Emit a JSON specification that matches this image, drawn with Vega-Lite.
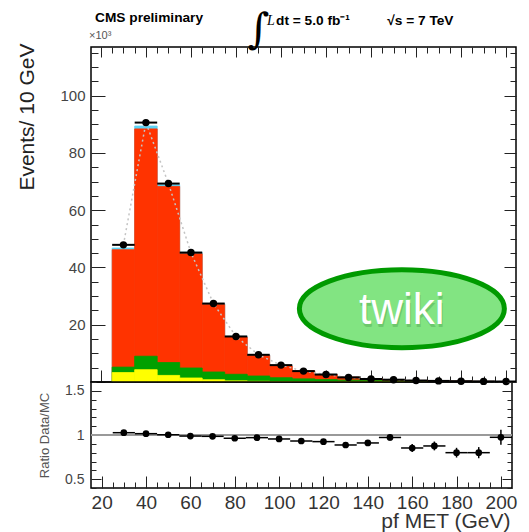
{
  "$schema": "https://vega.github.io/schema/vega-lite/v6.json",
  "background": "white",
  "padding": {"left": 15, "top": 8, "right": 0, "bottom": 0},
  "spacing": 0,
  "bounds": "flush",
  "config": {
    "view": {"stroke": "black", "strokeWidth": 1.5},
    "font": "Liberation Sans",
    "axis": {"domain": false, "grid": false, "tickColor": "#222", "tickWidth": 1, "labelFont": "Liberation Sans", "titleFont": "Liberation Sans", "labelColor": "#444", "titleColor": "#333", "titleFontWeight": "normal", "zindex": 1, "labelOverlap": false, "labelFlush": false, "labelBound": false}
  },
  "datasets": {
    "bins": [
      {"c": 30, "lo": 25, "hi": 35, "ytop": 3.3, "gtop": 5.2, "rtop": 46.2, "btop": 46.8, "data": 47.9, "ratio": 1.026, "rlo": 1.02, "rhi": 1.032},
      {"c": 40, "lo": 35, "hi": 45, "ytop": 4.3, "gtop": 9.0, "rtop": 88.4, "btop": 89.4, "data": 90.6, "ratio": 1.015, "rlo": 1.01, "rhi": 1.02},
      {"c": 50, "lo": 45, "hi": 55, "ytop": 2.3, "gtop": 6.8, "rtop": 68.3, "btop": 68.9, "data": 69.3, "ratio": 1.003, "rlo": 0.998, "rhi": 1.008},
      {"c": 60, "lo": 55, "hi": 65, "ytop": 1.4, "gtop": 4.9, "rtop": 44.8, "btop": 45.3, "data": 45.2, "ratio": 0.988, "rlo": 0.983, "rhi": 0.993},
      {"c": 70, "lo": 65, "hi": 75, "ytop": 0.8, "gtop": 3.5, "rtop": 27.1, "btop": 27.4, "data": 27.4, "ratio": 0.985, "rlo": 0.979, "rhi": 0.991},
      {"c": 80, "lo": 75, "hi": 85, "ytop": 0.4, "gtop": 2.7, "rtop": 15.7, "btop": 15.95, "data": 15.9, "ratio": 0.963, "rlo": 0.955, "rhi": 0.971},
      {"c": 90, "lo": 85, "hi": 95, "ytop": 0.25, "gtop": 2.1, "rtop": 9.3, "btop": 9.45, "data": 9.5, "ratio": 0.97, "rlo": 0.96, "rhi": 0.98},
      {"c": 100, "lo": 95, "hi": 105, "ytop": 0.15, "gtop": 1.5, "rtop": 5.6, "btop": 5.75, "data": 5.9, "ratio": 0.955, "rlo": 0.943, "rhi": 0.967},
      {"c": 110, "lo": 105, "hi": 115, "ytop": 0.1, "gtop": 1.1, "rtop": 3.9, "btop": 4.0, "data": 3.8, "ratio": 0.932, "rlo": 0.917, "rhi": 0.947},
      {"c": 120, "lo": 115, "hi": 125, "ytop": 0.06, "gtop": 0.85, "rtop": 2.65, "btop": 2.72, "data": 2.6, "ratio": 0.925, "rlo": 0.907, "rhi": 0.943},
      {"c": 130, "lo": 125, "hi": 135, "ytop": 0.05, "gtop": 0.65, "rtop": 1.75, "btop": 1.8, "data": 1.6, "ratio": 0.887, "rlo": 0.865, "rhi": 0.909},
      {"c": 140, "lo": 135, "hi": 145, "ytop": 0.03, "gtop": 0.5, "rtop": 1.12, "btop": 1.15, "data": 1.05, "ratio": 0.91, "rlo": 0.884, "rhi": 0.936},
      {"c": 150, "lo": 145, "hi": 155, "ytop": 0.02, "gtop": 0.38, "rtop": 0.8, "btop": 0.82, "data": 0.8, "ratio": 0.972, "rlo": 0.937, "rhi": 1.007},
      {"c": 160, "lo": 155, "hi": 165, "ytop": 0.02, "gtop": 0.28, "rtop": 0.57, "btop": 0.59, "data": 0.5, "ratio": 0.853, "rlo": 0.808, "rhi": 0.898},
      {"c": 170, "lo": 165, "hi": 175, "ytop": 0.01, "gtop": 0.2, "rtop": 0.43, "btop": 0.44, "data": 0.38, "ratio": 0.876, "rlo": 0.826, "rhi": 0.926},
      {"c": 180, "lo": 175, "hi": 185, "ytop": 0.01, "gtop": 0.15, "rtop": 0.35, "btop": 0.36, "data": 0.29, "ratio": 0.8, "rlo": 0.745, "rhi": 0.855},
      {"c": 190, "lo": 185, "hi": 195, "ytop": 0.01, "gtop": 0.11, "rtop": 0.25, "btop": 0.26, "data": 0.21, "ratio": 0.8, "rlo": 0.737, "rhi": 0.863},
      {"c": 200, "lo": 195, "hi": 205, "ytop": 0.01, "gtop": 0.09, "rtop": 0.17, "btop": 0.18, "data": 0.17, "ratio": 0.974, "rlo": 0.889, "rhi": 1.059}
    ]
  },
  "resolve": {"scale": {"x": "independent", "y": "independent"}},
  "vconcat": [
    {
      "width": 425,
      "height": 335,
      "data": {"name": "bins"},
      "resolve": {"axis": {"x": "independent", "y": "independent"}},
      "layer": [
        {
          "mark": {"type": "bar", "fill": "#5cd3f5", "stroke": "#5cd3f5", "strokeWidth": 0.8, "clip": true},
          "encoding": {
            "x": {"field": "lo", "type": "quantitative", "scale": {"domain": [15.6, 204.4], "nice": false, "zero": false},
              "axis": {"orient": "bottom", "title": null, "labels": false,
                "values": [20,25,30,35,40,45,50,55,60,65,70,75,80,85,90,95,100,105,110,115,120,125,130,135,140,145,150,155,160,165,170,175,180,185,190,195,200],
                "tickSize": {"condition": {"test": "datum.value % 20 === 0", "value": -12}, "value": -6}}},
            "x2": {"field": "hi"},
            "y": {"field": "btop", "type": "quantitative", "scale": {"domain": [0, 117], "nice": false, "zero": false},
              "axis": {"orient": "left", "title": "Events/ 10 GeV", "titleFontSize": 21, "titleColor": "#222",
                "titleX": -54, "titleY": -4, "titleAlign": "right", "titleAngle": 270, "titleBaseline": "bottom",
                "values": [0,5,10,15,20,25,30,35,40,45,50,55,60,65,70,75,80,85,90,95,100,105,110,115],
                "labelExpr": "datum.value % 20 === 0 && datum.value > 0 ? datum.label : ''",
                "labelFontSize": 15, "labelPadding": 20, "labelOverlap": false,
                "tickSize": {"condition": {"test": "datum.value % 20 === 0", "value": -14}, "value": -7}}},
            "y2": {"datum": 0}
          }
        },
        {
          "mark": {"type": "bar", "fill": "#ff3300", "stroke": "#ff3300", "strokeWidth": 0.8, "clip": true},
          "encoding": {
            "x": {"field": "lo", "type": "quantitative",
              "axis": {"orient": "top", "title": null, "labels": false,
                "values": [20,25,30,35,40,45,50,55,60,65,70,75,80,85,90,95,100,105,110,115,120,125,130,135,140,145,150,155,160,165,170,175,180,185,190,195,200],
                "tickSize": {"condition": {"test": "datum.value % 20 === 0", "value": -10}, "value": -6}}},
            "x2": {"field": "hi"},
            "y": {"field": "rtop", "type": "quantitative",
              "axis": {"orient": "right", "title": null, "labels": false,
                "values": [0,5,10,15,20,25,30,35,40,45,50,55,60,65,70,75,80,85,90,95,100,105,110,115],
                "tickSize": {"condition": {"test": "datum.value % 20 === 0", "value": -12}, "value": -6}}},
            "y2": {"datum": 0}
          }
        },
        {
          "mark": {"type": "bar", "fill": "#00a000", "stroke": "#00a000", "strokeWidth": 0.8, "clip": true},
          "encoding": {
            "x": {"field": "lo", "type": "quantitative", "axis": null},
            "x2": {"field": "hi"},
            "y": {"field": "gtop", "type": "quantitative", "axis": null},
            "y2": {"datum": 0}
          }
        },
        {
          "mark": {"type": "bar", "fill": "#ffff00", "stroke": "#ffff00", "strokeWidth": 0.8, "clip": true},
          "encoding": {
            "x": {"field": "lo", "type": "quantitative", "axis": null},
            "x2": {"field": "hi"},
            "y": {"field": "ytop", "type": "quantitative", "axis": null},
            "y2": {"datum": 0}
          }
        },
        {
          "mark": {"type": "line", "color": "#c4c4c4", "strokeWidth": 1.5, "strokeDash": [2, 3]},
          "encoding": {
            "x": {"field": "c", "type": "quantitative", "axis": null},
            "y": {"field": "data", "type": "quantitative", "axis": null}
          }
        },
        {
          "mark": {"type": "rule", "color": "black", "strokeWidth": 2, "clip": true},
          "encoding": {
            "x": {"field": "lo", "type": "quantitative", "axis": null},
            "x2": {"field": "hi"},
            "y": {"field": "data", "type": "quantitative", "axis": null}
          }
        },
        {
          "mark": {"type": "point", "filled": true, "color": "black", "opacity": 1, "size": 55},
          "encoding": {
            "x": {"field": "c", "type": "quantitative", "axis": null},
            "y": {"field": "data", "type": "quantitative", "axis": null}
          }
        },
        {
          "data": {"values": [
            {"x": 17.4, "y": 127.1, "label": "CMS preliminary"},
            {"x": 97.8, "y": 126.1, "label": "dt = 5.0 fb⁻¹"},
            {"x": 147.2, "y": 126.1, "label": "√s = 7 TeV"}
          ]},
          "mark": {"type": "text", "align": "left", "baseline": "middle", "fontSize": 13.7, "fontWeight": "bold", "color": "black", "font": "Liberation Sans"},
          "encoding": {
            "x": {"field": "x", "type": "quantitative", "axis": null},
            "y": {"field": "y", "type": "quantitative", "axis": null},
            "text": {"field": "label"}
          }
        },
        {
          "data": {"values": [{"x": 93.8, "y": 126.1, "label": "L"}]},
          "mark": {"type": "text", "align": "left", "baseline": "middle", "fontSize": 14, "fontStyle": "italic", "color": "black", "font": "Liberation Serif"},
          "encoding": {
            "x": {"field": "x", "type": "quantitative", "axis": null},
            "y": {"field": "y", "type": "quantitative", "axis": null},
            "text": {"field": "label"}
          }
        },
        {
          "data": {"values": [{"x": 90.0, "y": 123.0, "label": "∫"}]},
          "mark": {"type": "text", "align": "center", "baseline": "middle", "fontSize": 42, "color": "black", "font": "DejaVu Serif"},
          "encoding": {
            "x": {"field": "x", "type": "quantitative", "axis": null},
            "y": {"field": "y", "type": "quantitative", "axis": null},
            "text": {"field": "label"}
          }
        },
        {
          "data": {"values": [{"x": 14.7, "y": 120.8, "label": "×10³"}]},
          "mark": {"type": "text", "align": "left", "baseline": "middle", "fontSize": 11, "color": "#555", "font": "Liberation Sans"},
          "encoding": {
            "x": {"field": "x", "type": "quantitative", "axis": null},
            "y": {"field": "y", "type": "quantitative", "axis": null},
            "text": {"field": "label"}
          }
        },
        {
          "data": {"values": [{"x": 153.7, "y": 25.6, "label": "twiki"}]},
          "mark": {"type": "point", "shape": "M -1 0 A 1 0.38 0 1 1 1 0 A 1 0.38 0 1 1 -1 0 Z", "size": 42025, "filled": true, "fill": "#82e482", "stroke": "#009a00", "strokeWidth": 5, "opacity": 1, "fillOpacity": 1, "strokeOpacity": 1},
          "encoding": {
            "x": {"field": "x", "type": "quantitative", "axis": null},
            "y": {"field": "y", "type": "quantitative", "axis": null}
          }
        },
        {
          "data": {"values": [{"x": 153.7, "y": 25.6, "label": "twiki"}]},
          "mark": {"type": "text", "align": "center", "baseline": "alphabetic", "dy": 18, "dx": 1, "fontSize": 44, "color": "#3c8a3c", "opacity": 0.3, "font": "Liberation Sans"},
          "encoding": {
            "x": {"field": "x", "type": "quantitative", "axis": null},
            "y": {"field": "y", "type": "quantitative", "axis": null},
            "text": {"field": "label"}
          }
        },
        {
          "data": {"values": [{"x": 153.7, "y": 25.6, "label": "twiki"}]},
          "mark": {"type": "text", "align": "center", "baseline": "alphabetic", "dy": 15, "fontSize": 44, "color": "white", "font": "Liberation Sans"},
          "encoding": {
            "x": {"field": "x", "type": "quantitative", "axis": null},
            "y": {"field": "y", "type": "quantitative", "axis": null},
            "text": {"field": "label"}
          }
        }
      ]
    },
    {
      "width": 421,
      "height": 106,
      "data": {"name": "bins"},
      "resolve": {"axis": {"x": "independent", "y": "independent"}},
      "layer": [
        {
          "mark": {"type": "rule", "color": "#999", "strokeWidth": 1},
          "encoding": {
            "y": {"datum": 1, "type": "quantitative", "axis": null, "scale": {"domain": [0.4, 1.6], "nice": false, "zero": false}}
          }
        },
        {
          "mark": {"type": "rule", "color": "black", "strokeWidth": 1.5},
          "encoding": {
            "x": {"field": "lo", "type": "quantitative", "scale": {"domain": [15.2, 205], "nice": false, "zero": false},
              "axis": {"orient": "bottom", "title": "pf MET (GeV)", "titleFontSize": 21, "titleColor": "#333",
                "titleX": 419, "titleY": 39, "titleAlign": "right", "titleBaseline": "alphabetic", "titleAnchor": null,
                "values": [20,25,30,35,40,45,50,55,60,65,70,75,80,85,90,95,100,105,110,115,120,125,130,135,140,145,150,155,160,165,170,175,180,185,190,195,200],
                "labelExpr": "datum.value % 20 === 0 ? datum.label : ''",
                "labelFontSize": 19, "labelColor": "#333", "labelPadding": 17, "labelOverlap": false,
                "tickSize": {"condition": {"test": "datum.value % 20 === 0", "value": -12}, "value": -6}}},
            "x2": {"field": "hi"},
            "y": {"field": "ratio", "type": "quantitative",
              "axis": {"orient": "left", "title": "Ratio Data/MC", "titleFontSize": 13, "titleColor": "#555",
                "titleX": -40, "titleY": 53, "titleAlign": "center", "titleAngle": 270, "titleBaseline": "bottom",
                "values": [0.4,0.5,0.6,0.7,0.8,0.9,1,1.1,1.2,1.3,1.4,1.5,1.6],
                "labelExpr": "abs(datum.value*2 - round(datum.value*2)) < 0.01 ? format(datum.value, '~g') : ''",
                "labelFontSize": 14, "labelPadding": 17, "labelOverlap": false,
                "tickSize": {"condition": {"test": "abs(datum.value*2 - round(datum.value*2)) < 0.01", "value": -10}, "value": -5}}}
          }
        },
        {
          "mark": {"type": "rule", "color": "black", "strokeWidth": 1.5},
          "encoding": {
            "x": {"field": "c", "type": "quantitative", "axis": null},
            "y": {"field": "rlo", "type": "quantitative",
              "axis": {"orient": "right", "title": null, "labels": false,
                "values": [0.4,0.5,0.6,0.7,0.8,0.9,1,1.1,1.2,1.3,1.4,1.5,1.6],
                "tickSize": {"condition": {"test": "abs(datum.value*2 - round(datum.value*2)) < 0.01", "value": -10}, "value": -5}}},
            "y2": {"field": "rhi"}
          }
        },
        {
          "mark": {"type": "point", "filled": true, "color": "black", "opacity": 1, "size": 45},
          "encoding": {
            "x": {"field": "c", "type": "quantitative", "axis": null},
            "y": {"field": "ratio", "type": "quantitative", "axis": null}
          }
        }
      ]
    }
  ]
}
